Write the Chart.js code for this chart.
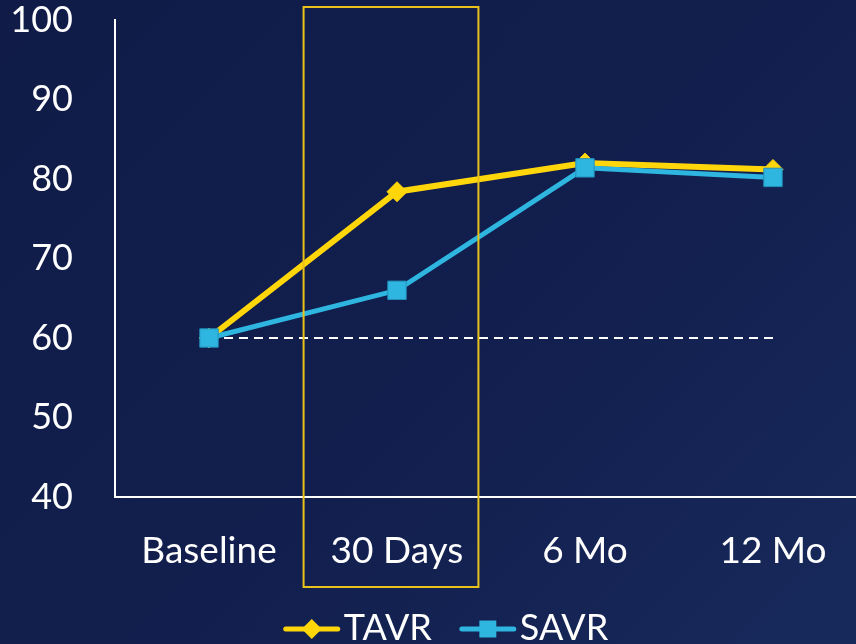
<!DOCTYPE html>
<html>
<head>
<meta charset="utf-8">
<title>TAVR vs SAVR</title>
<script src="https://cdn.jsdelivr.net/npm/chart.js@4/dist/chart.umd.min.js"></script>
<style>
  html, body { margin: 0; padding: 0; overflow: hidden; width: 856px; height: 644px; }
  body { background: linear-gradient(135deg, #101b47 0%, #121f4e 55%, #17295b 100%); }
  #wrap { position: relative; width: 881px; height: 644px; }
  canvas { display: block; }
</style>
</head>
<body>
<div id="wrap"><canvas id="chart" width="881" height="644"></canvas></div>
<script>
// Time points and scores
const categories = ['Baseline', '30 Days', '6 Mo', '12 Mo'];
const tavr = [60, 78.4, 82.0, 81.2];
const savr = [60, 66.0, 81.4, 80.2];
const baselineRef = [60, 60, 60, 60];
const yTicks = [40, 50, 60, 70, 80, 90, 100];

const YELLOW = '#FFD60A';
const BLUE = '#2EB5E0';
const FONT = 'Lato';

// Outline box around the 30-day time point
const highlightBox = {
  id: 'highlightBox',
  afterDatasetsDraw(chart) {
    const { ctx, scales: { x, y }, chartArea } = chart;
    const idx = categories.indexOf('30 Days');
    const cx = x.getPixelForValue(idx) - 6;
    const half = x.width / categories.length * 0.465;
    const top = y.getPixelForValue(100) - 13;
    const bottom = chartArea.bottom + 90;
    ctx.save();
    ctx.strokeStyle = '#E8C21A';
    ctx.lineWidth = 2;
    ctx.strokeRect(cx - half, top, half * 2, bottom - top);
    ctx.restore();
  }
};

// Legend with line + marker swatches
const lineLegend = {
  id: 'lineLegend',
  afterDraw(chart, args, opts) {
    const { ctx } = chart;
    const items = chart.data.datasets.filter(d => d.showInLegend).reverse();
    ctx.save();
    ctx.font = `${opts.size}px ${FONT}`;
    ctx.textBaseline = 'middle';
    const sw = 56, gapText = 4, gapItem = 28;
    const widths = items.map(d => sw + gapText + ctx.measureText(d.label).width);
    const total = widths.reduce((a, b) => a + b, 0) + gapItem * (items.length - 1);
    let xPos = opts.centerX - total / 2;
    const yPos = opts.y;
    items.forEach((d, i) => {
      ctx.strokeStyle = d.borderColor;
      ctx.lineWidth = 5;
      ctx.lineCap = 'round';
      ctx.beginPath();
      ctx.moveTo(xPos + 2, yPos);
      ctx.lineTo(xPos + sw - 2, yPos);
      ctx.stroke();
      ctx.fillStyle = d.pointBackgroundColor;
      ctx.strokeStyle = d.pointBackgroundColor;
      Chart.helpers.drawPoint(ctx, {
        pointStyle: d.pointStyle,
        radius: d.legendRadius,
        borderWidth: 0,
        rotation: 0
      }, xPos + sw / 2, yPos);
      ctx.fillStyle = '#ffffff';
      ctx.fillText(d.label, xPos + sw + gapText, yPos - 1);
      xPos += widths[i] + gapItem;
    });
    ctx.restore();
  }
};

new Chart(document.getElementById('chart'), {
  type: 'line',
  data: {
    labels: categories,
    datasets: [
      {
        label: 'SAVR',
        data: savr,
        order: 0,
        showInLegend: true,
        borderColor: BLUE,
        borderWidth: 5,
        pointStyle: 'rect',
        pointRadius: 13,
        legendRadius: 12,
        pointBackgroundColor: BLUE,
        pointBorderColor: '#2290BA',
        pointBorderWidth: 1,
        tension: 0
      },
      {
        label: 'TAVR',
        data: tavr,
        order: 1,
        showInLegend: true,
        borderColor: YELLOW,
        borderWidth: 6,
        pointStyle: 'rectRot',
        pointRadius: 10,
        legendRadius: 10,
        pointBackgroundColor: YELLOW,
        pointBorderColor: YELLOW,
        pointBorderWidth: 1,
        tension: 0
      },
      {
        label: 'Baseline level',
        data: baselineRef,
        order: 2,
        showInLegend: false,
        borderColor: '#ffffff',
        borderWidth: 2,
        borderDash: [9, 6],
        pointRadius: 0,
        tension: 0
      }
    ]
  },
  options: {
    responsive: false,
    animation: false,
    devicePixelRatio: 1,
    layout: { padding: { left: 11, right: 0, top: 0, bottom: 67 } },
    plugins: {
      legend: { display: false },
      tooltip: { enabled: false },
      lineLegend: { centerX: 446, y: 629, size: 36 }
    },
    scales: {
      x: {
        offset: true,
        grid: { display: false, drawTicks: false },
        border: { display: true, color: '#ffffff', width: 2 },
        ticks: { color: '#ffffff', font: { family: FONT, size: 37 }, padding: 32, maxRotation: 0 },
        afterFit(scale) { scale.height = 80; scale.paddingLeft = 0; scale.paddingRight = 0; }
      },
      y: {
        min: 40,
        max: 100,
        afterBuildTicks(scale) { scale.ticks = yTicks.map(v => ({ value: v })); },
        grid: { display: false, drawTicks: false },
        border: { display: true, color: '#ffffff', width: 2 },
        ticks: { color: '#ffffff', font: { family: FONT, size: 36 }, padding: 42 },
        afterFit(scale) { scale.width = 104; scale.paddingTop = 20; scale.paddingBottom = 20; }
      }
    }
  },
  plugins: [highlightBox, lineLegend]
});
</script>
</body>
</html>
